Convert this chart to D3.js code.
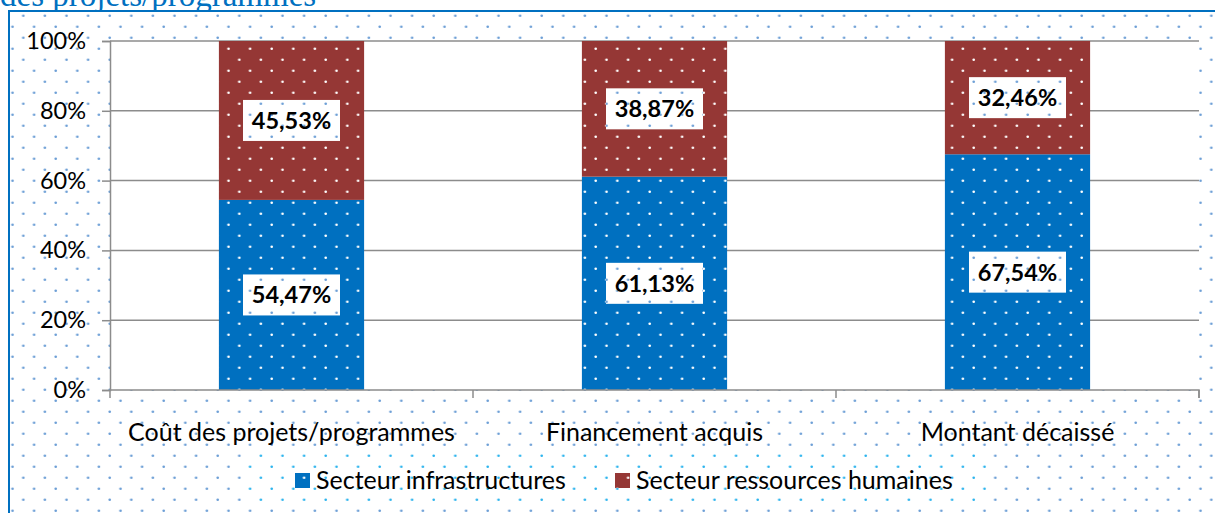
<!DOCTYPE html>
<html>
<head>
<meta charset="utf-8">
<script src="https://cdn.jsdelivr.net/npm/d3@7"></script>
<style>
  body { margin: 0; background: #fff; }
  svg { display: block; }
</style>
</head>
<body>
<svg width="1215" height="513"></svg>
<script>
const categories = ["Coût des projets/programmes", "Financement acquis", "Montant décaissé"];
const seriesNames = ["Secteur infrastructures", "Secteur ressources humaines"];
const infra = [54.47, 61.13, 67.54];
const rh = [45.53, 38.87, 32.46];
const yTicks = [0, 20, 40, 60, 80, 100];
const colors = ["#0070c0", "#953735"];

const svg = d3.select("svg");
const plot = {left: 110, right: 1199, top: 41, bottom: 390};

// dotted fills
const defs = svg.append("defs");
function dots(id, bg, dot, r) {
  const p = defs.append("pattern").attr("id", id)
    .attr("patternUnits", "userSpaceOnUse")
    .attr("width", 21.6).attr("height", 22);
  if (bg) p.append("rect").attr("width", 21.6).attr("height", 22).attr("fill", bg);
  p.append("circle").attr("cx", 1.7).attr("cy", 15.7).attr("r", r).attr("fill", dot);
  p.append("circle").attr("cx", 12.5).attr("cy", 4.7).attr("r", r).attr("fill", dot);
}
dots("bgdots", "#fff", "#6d9fd6", 1.3);
dots("legdots", "#fff", "#2cb4ee", 1.3);
dots("whitedots", null, "#ffffff", 1.3);

// title (cut off at top, as in the source)
svg.append("text").attr("x", 0).attr("y", 6)
  .attr("font-family", "Liberation Serif, Times New Roman, serif")
  .attr("font-size", 33).attr("fill", "#0070c0")
  .text("des projets/programmes");

// chart area + border
svg.append("rect").attr("x", 9).attr("y", 11).attr("width", 1230).attr("height", 520)
  .attr("fill", "url(#bgdots)").attr("stroke", "#0070c0").attr("stroke-width", 2);

svg.append("rect").attr("x", plot.left).attr("y", plot.top)
  .attr("width", plot.right - plot.left).attr("height", plot.bottom - plot.top)
  .attr("fill", "#fff");

const x = d3.scaleBand().domain(categories).range([plot.left, plot.right])
  .paddingInner(0.6).paddingOuter(0.3);
const y = d3.scaleLinear().domain([0, 100]).range([plot.bottom, plot.top]);

// gridlines
svg.append("g").selectAll("line").data(yTicks.filter(d => d > 0)).join("line")
  .attr("x1", plot.left).attr("x2", plot.right)
  .attr("y1", d => y(d)).attr("y2", d => y(d))
  .attr("stroke", "#8c8c8c").attr("stroke-width", 1.5);

// stacked bars
const table = categories.map((c, i) => ({cat: c, infra: infra[i], rh: rh[i]}));
const stack = d3.stack().keys(["infra", "rh"])(table);
const layers = svg.append("g").selectAll("g").data(stack).join("g");
layers.each(function(layer, li) {
  const g = d3.select(this);
  g.selectAll("rect.f").data(layer).join("rect").attr("class", "f")
    .attr("x", d => x(d.data.cat)).attr("width", x.bandwidth())
    .attr("y", d => y(d[1])).attr("height", d => y(d[0]) - y(d[1]))
    .attr("fill", colors[li]);
  g.selectAll("rect.p").data(layer).join("rect").attr("class", "p")
    .attr("x", d => x(d.data.cat)).attr("width", x.bandwidth())
    .attr("y", d => y(d[1])).attr("height", d => y(d[0]) - y(d[1]))
    .attr("fill", "url(#whitedots)");
});

// axes
const yAxis = svg.append("g").attr("transform", `translate(${plot.left},0)`)
  .call(d3.axisLeft(y).tickValues(yTicks).tickSize(8).tickPadding(16).tickFormat(d => d + "%"));
const xAxis = svg.append("g").attr("transform", `translate(0,${plot.bottom})`)
  .call(d3.axisBottom(x).tickSize(0).tickPadding(33));
[yAxis, xAxis].forEach(a => {
  a.select(".domain").attr("stroke", "#8c8c8c").attr("stroke-width", 1.5);
  a.selectAll(".tick line").attr("stroke", "#8c8c8c").attr("stroke-width", 1.5);
  a.selectAll("text").attr("font-family", "Lato, sans-serif").attr("fill", "#000");
});
yAxis.selectAll("text").attr("font-size", 23.5);
xAxis.selectAll("text").attr("font-size", 25);
xAxis.select(".domain").attr("d", `M${plot.left},0V0H${plot.right}V8`);
// category separators
const step = x.step();
xAxis.append("g").selectAll("line").data(d3.range(0, categories.length + 1)).join("line")
  .attr("x1", i => plot.left + i * step).attr("x2", i => plot.left + i * step)
  .attr("y1", 0).attr("y2", 8).attr("stroke", "#8c8c8c").attr("stroke-width", 1.5);

// data labels
const labels = svg.append("g");
stack.forEach(layer => {
  layer.forEach(d => {
    const cx = x(d.data.cat) + x.bandwidth() / 2;
    const cy = y((d[0] + d[1]) / 2);
    const v = d[1] - d[0];
    const w = 97, h = 41;
    labels.append("rect").attr("x", cx - w / 2).attr("y", cy - h / 2)
      .attr("width", w).attr("height", h).attr("fill", "url(#bgdots)");
    labels.append("text").attr("x", cx).attr("y", cy).attr("dy", "0.36em")
      .attr("text-anchor", "middle")
      .attr("font-family", "Lato, sans-serif").attr("font-weight", "bold")
      .attr("font-size", 23.5).attr("fill", "#000")
      .text(v.toFixed(2).replace(".", ",") + "%");
  });
});

// legend
const leg = svg.append("g");
leg.append("rect").attr("x", 243).attr("y", 454).attr("width", 749).attr("height", 52)
  .attr("fill", "url(#legdots)");
const legX = [295, 615];
seriesNames.forEach((name, i) => {
  leg.append("rect").attr("x", legX[i]).attr("y", 473).attr("width", 15).attr("height", 15)
    .attr("fill", colors[i]);
  leg.append("rect").attr("x", legX[i]).attr("y", 473).attr("width", 15).attr("height", 15)
    .attr("fill", "url(#whitedots)");
  leg.append("text").attr("x", legX[i] + 21).attr("y", 489)
    .attr("font-family", "Lato, sans-serif").attr("font-size", 25).attr("fill", "#000")
    .text(name);
});
</script>
</body>
</html>
